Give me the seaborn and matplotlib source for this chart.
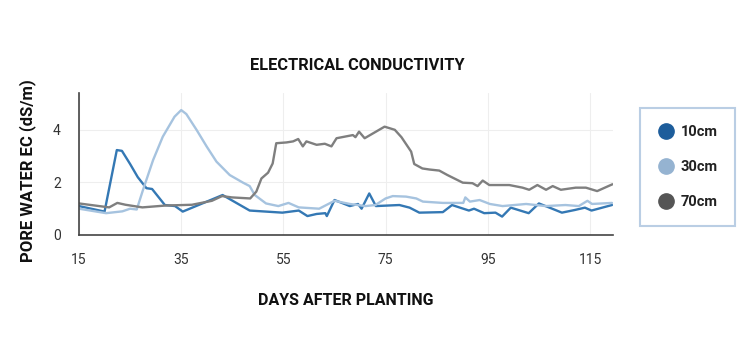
import matplotlib
matplotlib.use("Agg")
import matplotlib.pyplot as plt
import seaborn as sns
import pandas as pd
from matplotlib.lines import Line2D

# ---- data ----
days_10 = [15, 20, 22.4, 23.4, 25, 26.5, 28.2, 29.3, 31.8, 33.8, 35.3, 43.1, 48.4, 54.8, 58, 59.7,
           61.5, 63.2, 63.5, 65, 68, 69.6, 70.3, 71.8, 73.1, 77.7, 79.7, 81.6, 86.2, 88, 91.3,
           92.3, 94.3, 96.5, 97.8, 99.5, 103, 105, 107.6, 109.5, 112, 114, 115.3, 119.3]
ec_10 = [1.1, 0.89, 3.23, 3.2, 2.7, 2.2, 1.78, 1.75, 1.14, 1.1, 0.89, 1.52, 0.93, 0.85, 0.93, 0.72,
         0.8, 0.83, 0.72, 1.33, 1.1, 1.18, 1.0, 1.58, 1.1, 1.14, 1.04, 0.85, 0.87, 1.14, 0.93,
         1.0, 0.83, 0.85, 0.7, 1.04, 0.83, 1.2, 1.0, 0.85, 0.95, 1.04, 0.93, 1.14]

days_30 = [15, 20.3, 23.5, 25, 26.3, 27.5, 29.5, 31.4, 33.7, 35, 36, 38, 40, 41.9, 44.5, 47.1,
           48.4, 49.4, 51.6, 54, 56, 58, 62, 65, 68, 71.1, 73, 75, 76.4, 79, 81, 82.3, 86.2,
           90.2, 90.6, 91.5, 93.4, 95.4, 97.9, 102.5, 106.3, 110.2, 112.8, 114.5, 115.4, 119.3]
ec_30 = [1.0, 0.83, 0.9, 1.0, 0.97, 1.7, 2.85, 3.74, 4.5, 4.75, 4.6, 4.0, 3.36, 2.79, 2.28, 1.99,
         1.86, 1.52, 1.2, 1.1, 1.22, 1.05, 1.0, 1.3, 1.18, 1.1, 1.14, 1.39, 1.48, 1.46, 1.39, 1.27,
         1.22, 1.22, 1.43, 1.27, 1.33, 1.18, 1.1, 1.18, 1.1, 1.14, 1.1, 1.3, 1.18, 1.22]

days_70 = [15, 20.9, 22.5, 24.1, 27.4, 31.9, 37.1, 41, 43, 44.9, 48.5, 49.7, 50.7, 52, 52.9, 53.6,
           55.6, 56.9, 57.9, 58.8, 59.5, 61.5, 63.1, 64.4, 65.4, 68.6, 69.1, 69.8, 70.9, 74.8,
           76.8, 78.1, 80, 80.6, 82.2, 83.6, 85.5, 87.1, 90.1, 92, 93, 94, 95.3, 99.2, 101.8,
           103.1, 104.7, 106.4, 107.7, 109.3, 112.2, 114.2, 116.4, 119.4]
ec_70 = [1.2, 1.05, 1.22, 1.15, 1.05, 1.12, 1.15, 1.3, 1.48, 1.43, 1.39, 1.65, 2.15, 2.37, 2.72, 3.49,
         3.52, 3.56, 3.65, 3.37, 3.56, 3.43, 3.47, 3.37, 3.68, 3.8, 3.72, 3.93, 3.68, 4.12,
         4.0, 3.72, 3.17, 2.7, 2.53, 2.49, 2.45, 2.28, 1.99, 1.97, 1.86, 2.07, 1.9, 1.9, 1.8,
         1.72, 1.9, 1.72, 1.86, 1.72, 1.8, 1.8, 1.67, 1.93]

series = ["10cm", "30cm", "70cm"]
x_ticks = [15, 35, 55, 75, 95, 115]
y_ticks = [0, 2, 4]

df = pd.concat([
    pd.DataFrame({"day": days_10, "ec": ec_10, "depth": series[0]}),
    pd.DataFrame({"day": days_30, "ec": ec_30, "depth": series[1]}),
    pd.DataFrame({"day": days_70, "ec": ec_70, "depth": series[2]}),
])

line_colors = {"10cm": "#3478b4", "30cm": "#a6c3df", "70cm": "#7f7f7f"}
marker_colors = ["#1d5d9b", "#95b3d1", "#555555"]

sns.set_style("white")
plt.rcParams["font.family"] = ["Roboto", "DejaVu Sans"]

fig = plt.figure(figsize=(7.5, 3.5), dpi=100)
ax = fig.add_axes([79 / 750, 1 - 235 / 350, (613 - 79) / 750, (235 - 93) / 350])

sns.lineplot(data=df, x="day", y="ec", hue="depth", palette=line_colors,
             linewidth=1.7, ax=ax, legend=False, sort=False, estimator=None)

ax.set_xlim(15, 119.5)
ax.set_ylim(0, 5.4)
ax.set_xticks(x_ticks)
ax.set_yticks(y_ticks)
ax.tick_params(axis="x", length=0, labelsize=10, colors="#333333", pad=13)
ax.tick_params(axis="y", length=0, labelsize=10, colors="#333333", pad=13)
ax.grid(True, color="#eeeeee", linewidth=0.8)
ax.set_axisbelow(True)
for s in ["top", "right"]:
    ax.spines[s].set_visible(False)
for s in ["left", "bottom"]:
    ax.spines[s].set_color("#444444")
    ax.spines[s].set_linewidth(1.2)

ax.set_xlabel("DAYS AFTER PLANTING", fontsize=11.5, fontweight="bold", labelpad=19, color="#111111")
ax.set_ylabel("PORE WATER EC (dS/m)", fontsize=12, fontweight="bold", labelpad=12, color="#111111",
              y=0.45)
fig.text(357 / 750, 1 - 66 / 350, "ELECTRICAL CONDUCTIVITY", ha="center", va="center",
         fontsize=11.8, fontweight="bold", color="#111111")

handles = [Line2D([0], [0], marker="o", linestyle="", markersize=11,
                  markerfacecolor=c, markeredgecolor=c) for c in marker_colors]
leg = fig.legend(handles, series, loc="upper left", bbox_to_anchor=(640 / 750, 1 - 108 / 350),
                 frameon=True, fancybox=False, fontsize=10.5, labelspacing=1.45,
                 borderpad=1.15, handletextpad=0.45, handlelength=1.2, borderaxespad=0)
frame = leg.get_frame()
frame.set_edgecolor("#a9c2de")
frame.set_linewidth(1.5)
for t in leg.get_texts():
    t.set_fontweight("bold")
    t.set_color("#222222")

fig.savefig("out.png", dpi=100, facecolor="white")
